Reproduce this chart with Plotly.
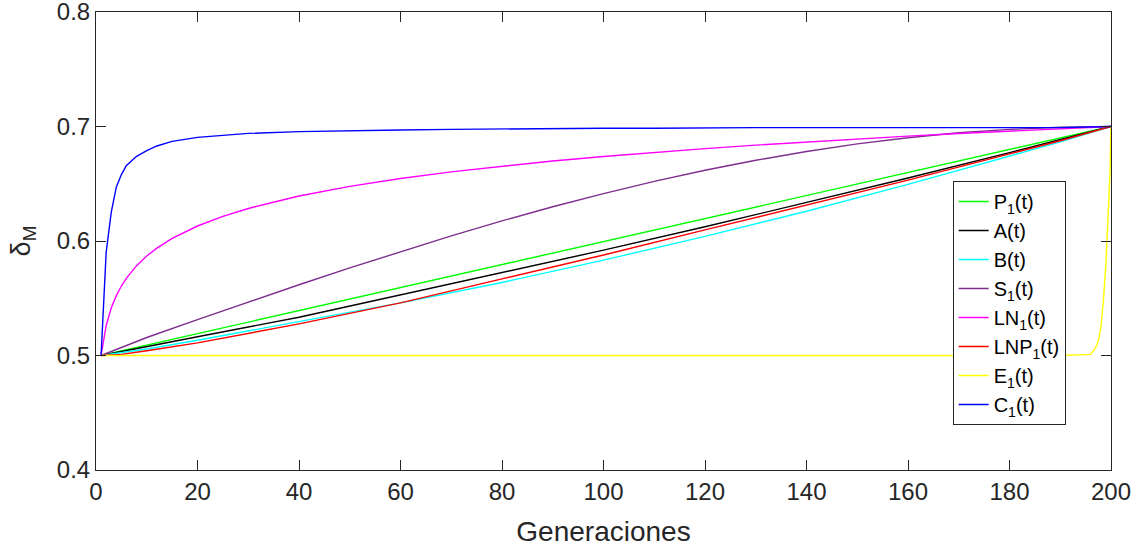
import plotly.graph_objects as go

# ---------------- data ----------------
t_lin = [1, 100, 200]
p1 = [0.5, 0.5995, 0.7]

t_ab = [1, 5, 10, 20, 40, 60, 80, 100, 120, 140, 160, 180, 190, 200]
a_t = [0.5, 0.5035, 0.5076, 0.5164, 0.5334, 0.5530, 0.5722, 0.5920, 0.6124, 0.6334, 0.6550, 0.6772, 0.6884, 0.7]
b_t = [0.5, 0.5025, 0.5057, 0.5133, 0.5295, 0.5460, 0.5638, 0.5833, 0.6040, 0.6260, 0.6494, 0.6740, 0.6866, 0.7]
lnp1 = [0.5, 0.5010, 0.5041, 0.5110, 0.5276, 0.5460, 0.5669, 0.5878, 0.6097, 0.6314, 0.6532, 0.6761, 0.6876, 0.7]

t_s = [1, 10, 20, 30, 40, 50, 60, 70, 80, 90, 100, 110, 120, 130, 140, 150, 160, 170, 180, 190, 200]
s1 = [0.5, 0.5157, 0.5313, 0.5467, 0.5618, 0.5765, 0.5908, 0.6045, 0.6176, 0.6299, 0.6414,
      0.6521, 0.6618, 0.6705, 0.6782, 0.6848, 0.6902, 0.6945, 0.6975, 0.6994, 0.7]

t_c = [1, 2, 3, 4, 5, 6, 8, 10, 12, 15, 20, 25, 30, 40, 50, 60, 70, 80, 90, 100,
       110, 120, 130, 140, 150, 160, 170, 180, 190, 200]
ln1 = [0.5, 0.5260, 0.5415, 0.5523, 0.5607, 0.5676, 0.5785, 0.5869, 0.5938, 0.6022, 0.6131,
       0.6215, 0.6284, 0.6393, 0.6477, 0.6546, 0.6604, 0.6654, 0.6699, 0.6738, 0.6774, 0.6807,
       0.6837, 0.6865, 0.6891, 0.6916, 0.6939, 0.6960, 0.6981, 0.7]
c1 = [0.5, 0.590, 0.625, 0.647, 0.658, 0.666, 0.674, 0.679, 0.683, 0.687, 0.6905,
      0.6925, 0.694, 0.6955, 0.6965, 0.697, 0.6975, 0.698, 0.698, 0.6985, 0.6985, 0.699,
      0.699, 0.699, 0.699, 0.699, 0.699, 0.699, 0.699, 0.7]

t_e = [1, 190, 195, 196, 197, 197.5, 198, 198.5, 199, 199.5, 199.8, 200]
e1 = [0.5, 0.5, 0.5008, 0.501, 0.507, 0.513, 0.524, 0.548, 0.580, 0.625, 0.660, 0.7]

x_ticks = [0, 20, 40, 60, 80, 100, 120, 140, 160, 180, 200]
y_ticks = [0.4, 0.5, 0.6, 0.7, 0.8]
y_tick_labels = ["0.4", "0.5", "0.6", "0.7", "0.8"]

series = [
    ("P<sub>1</sub>(t)", t_lin, p1, "#00FF00"),
    ("A(t)", t_ab, a_t, "#000000"),
    ("B(t)", t_ab, b_t, "#00FFFF"),
    ("S<sub>1</sub>(t)", t_s, s1, "#7E2F8E"),
    ("LN<sub>1</sub>(t)", t_c, ln1, "#FF00FF"),
    ("LNP<sub>1</sub>(t)", t_ab, lnp1, "#FF0000"),
    ("E<sub>1</sub>(t)", t_e, e1, "#FFFF00"),
    ("C<sub>1</sub>(t)", t_c, c1, "#0000FF"),
]

fig = go.Figure()
for name, x, y, col in series:
    fig.add_trace(go.Scatter(x=x, y=y, mode="lines", name=name,
                             line=dict(color=col, width=1.4)))

axis_col = "#262626"
common = dict(showgrid=False, zeroline=False, showline=True, linecolor=axis_col,
              linewidth=1, mirror="ticks", ticks="inside", ticklen=10,
              tickcolor=axis_col, tickwidth=1, automargin=False,
              ticklabeloverflow="allow",
              tickfont=dict(family="Liberation Sans, Arial", size=24, color=axis_col))

fig.update_layout(
    width=1133, height=547,
    margin=dict(l=96, r=22, t=12, b=77),
    paper_bgcolor="white", plot_bgcolor="white",
    font=dict(family="Liberation Sans, Arial", color=axis_col),
    xaxis=dict(range=[0, 200], tickmode="array", tickvals=x_ticks,
               title=dict(text="Generaciones", font=dict(size=28), standoff=18), **common),
    yaxis=dict(range=[0.4, 0.8], tickmode="array", tickvals=y_ticks, ticktext=y_tick_labels,
               title=dict(text="δ<sub>M</sub>", font=dict(size=27), standoff=18), **common),
    legend=dict(x=0.844, y=0.631, xanchor="left", yanchor="top",
                bgcolor="white", bordercolor=axis_col, borderwidth=1,
                font=dict(family="Liberation Sans, Arial", size=20, color="#000000"),
                itemwidth=30, tracegroupgap=0),
    showlegend=True,
)

fig.write_html("out.html")
